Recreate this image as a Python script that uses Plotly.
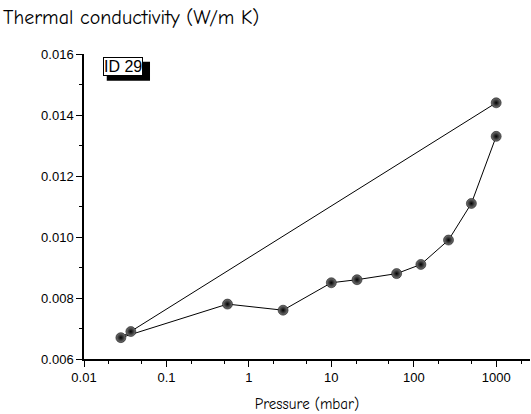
import plotly.graph_objects as go

# Thermal conductivity vs pressure, ID 29 (loop: start at 1000 mbar, down, back up)
pressure = [1000, 0.037, 0.028, 0.55, 2.6, 10, 20.5, 62, 122, 264, 500, 1000]
conductivity = [0.0144, 0.0069, 0.0067, 0.0078, 0.0076, 0.0085, 0.0086, 0.0088,
                0.0091, 0.0099, 0.0111, 0.0133]

x_ticks = [0.01, 0.1, 1, 10, 100, 1000]
x_ticklabels = ["0.01", "0.1", "1", "10", "100", "1000"]
y_ticks = [0.006, 0.008, 0.010, 0.012, 0.014, 0.016]
y_ticklabels = ["0.006", "0.008", "0.010", "0.012", "0.014", "0.016"]

label_font = "Comic Sans MS, Comic Neue, Noto Sans, sans-serif"
tick_font = "Liberation Sans, Arial, sans-serif"

fig = go.Figure()
fig.add_trace(go.Scatter(
    x=pressure, y=conductivity,
    mode="lines+markers",
    line=dict(color="black", width=1),
    marker=dict(size=10, color="#777777",
                gradient=dict(type="radial", color="black"),
                line=dict(color="black", width=0.5)),
    showlegend=False,
    cliponaxis=False,
))

fig.update_xaxes(
    type="log", range=[-2, 3.41], automargin=False,
    tickvals=x_ticks, ticktext=x_ticklabels,
    ticks="outside", ticklen=6, tickwidth=1, tickcolor="black",
    minor=dict(ticks="outside", ticklen=3, tickcolor="black", showgrid=False),
    showline=True, linecolor="black", linewidth=1.5,
    showgrid=False, zeroline=False,
    tickfont=dict(family=tick_font, size=13, color="black"),
    title=dict(text="Pressure (mbar)", font=dict(family=label_font, size=15, color="black"),
               standoff=14),
)
fig.update_yaxes(
    range=[0.006, 0.016], automargin=False,
    tickvals=y_ticks, ticktext=y_ticklabels,
    ticks="outside", ticklen=6, tickwidth=1, tickcolor="black",
    minor=dict(ticks="outside", ticklen=3, tickcolor="black", dtick=0.001, showgrid=False),
    showline=True, linecolor="black", linewidth=1.5,
    showgrid=False, zeroline=False,
    tickfont=dict(family=tick_font, size=13, color="black"),
)

# shadow box behind the "ID 29" label
fig.add_shape(type="rect", xref="paper", yref="paper",
              x0=0.051, x1=0.148, y0=0.912, y1=0.975,
              fillcolor="black", line=dict(width=0), layer="above")
fig.add_annotation(
    text="ID 29", xref="paper", yref="paper", x=0.042, y=0.989,
    xanchor="left", yanchor="top", showarrow=False,
    font=dict(family=tick_font, size=16, color="black"),
    bgcolor="white", bordercolor="black", borderwidth=1, borderpad=0,
)
fig.add_annotation(
    text="Thermal conductivity (W/m K)", xref="paper", yref="paper",
    x=-83 / 446, y=(359 - 18) / 305, xanchor="left", yanchor="middle", showarrow=False,
    font=dict(family=label_font, size=20, color="black"),
)

fig.update_layout(
    width=531, height=414,
    margin=dict(l=84, r=1, t=54, b=55),
    plot_bgcolor="white", paper_bgcolor="white",
)

# drop the default page margin so the figure sits at the window's top-left corner
fig.write_html("out.html", config={"displayModeBar": False},
               post_script="document.body.style.margin='0';")
